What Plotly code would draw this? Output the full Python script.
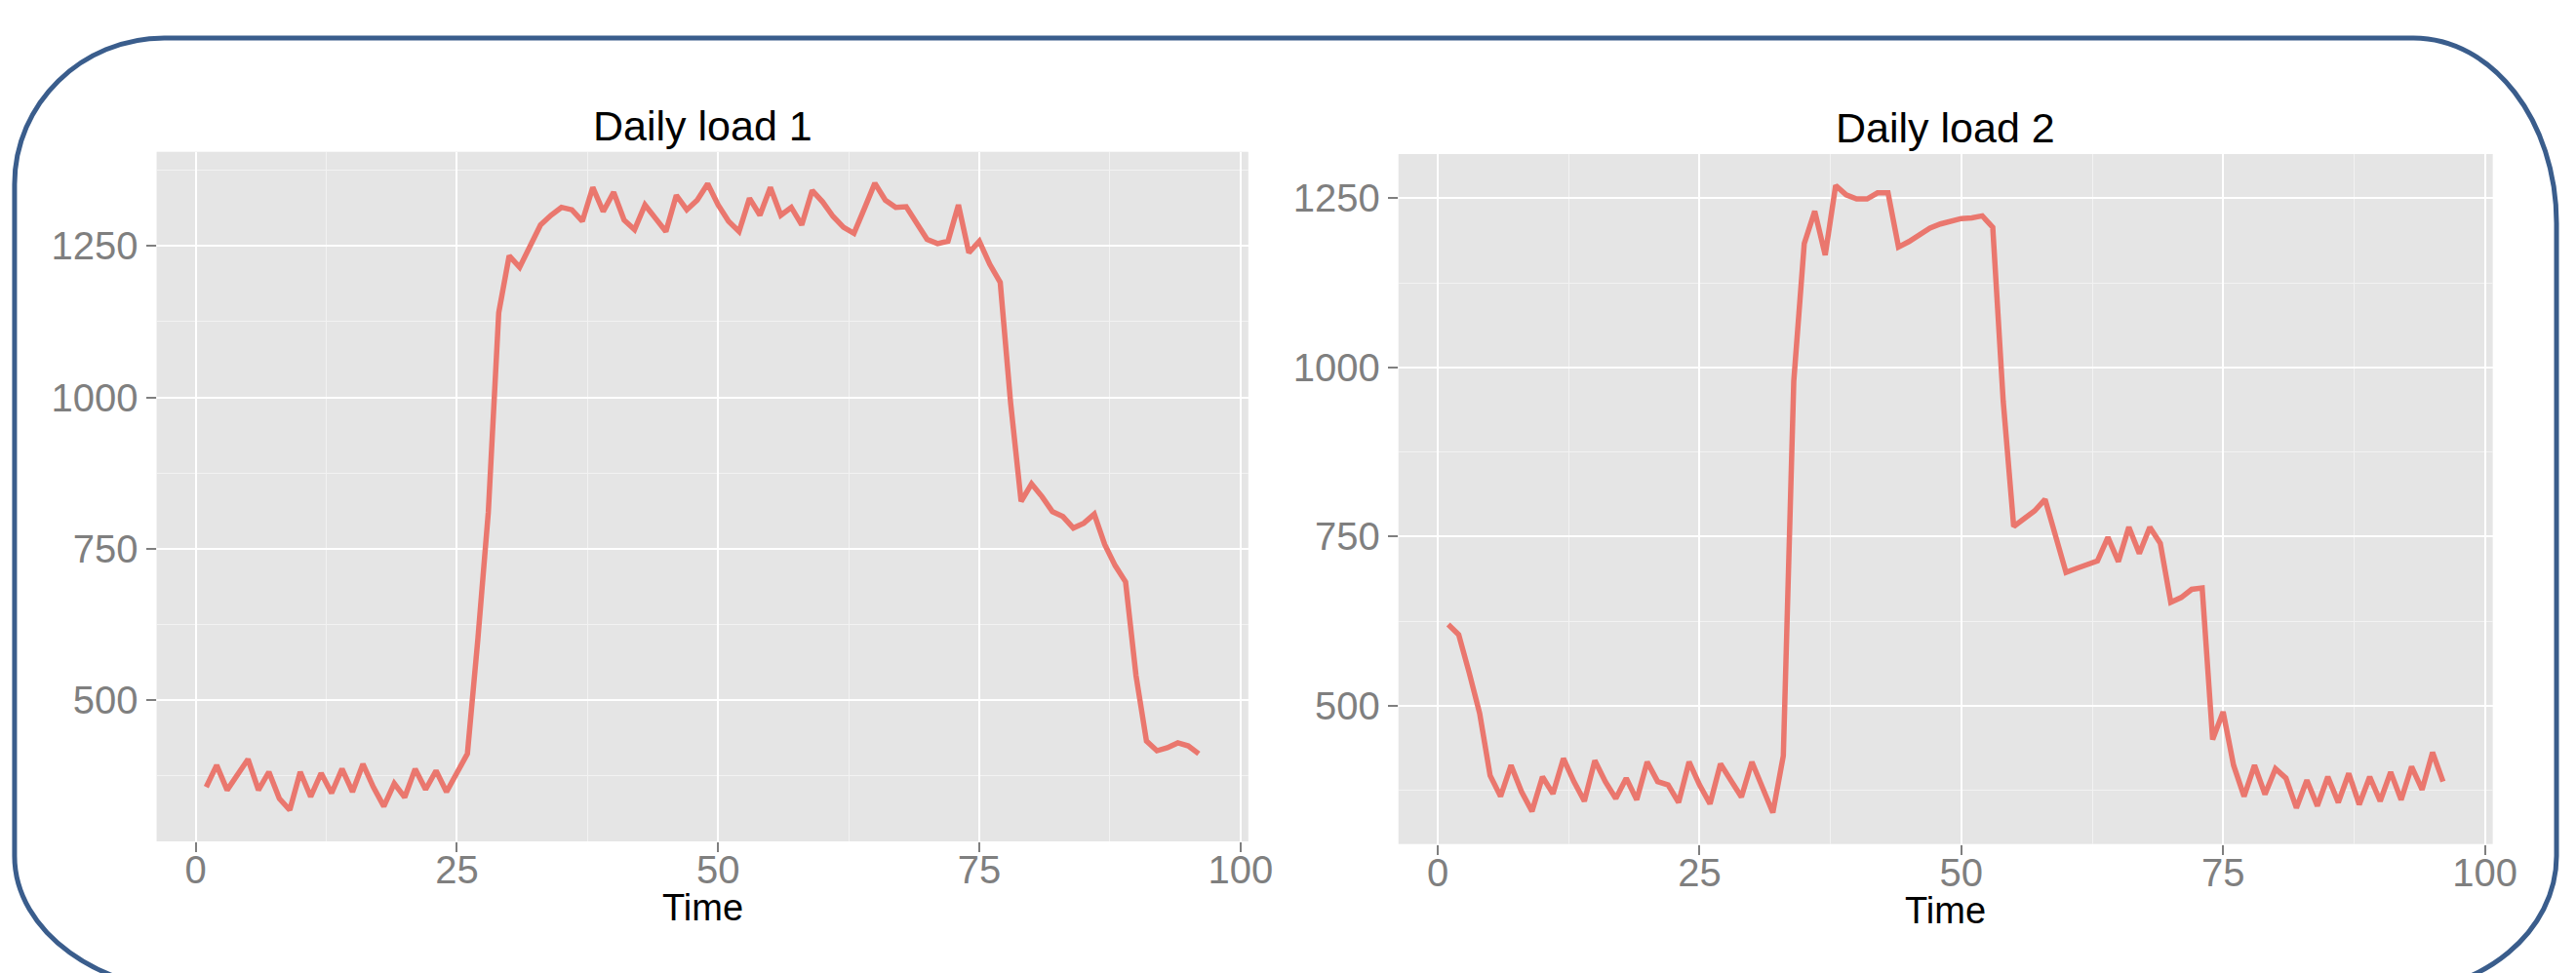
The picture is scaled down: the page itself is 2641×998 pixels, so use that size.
import plotly.graph_objects as go

# ---------------- data ----------------
time = list(range(1, 97))

load1 = [356, 392, 351, 378, 402, 351, 381, 337, 318, 381,
         340, 379, 346, 386, 348, 394, 356, 324, 362, 339,
         386, 352, 383, 348, 380, 411, 600, 810, 1140, 1234,
         1215, 1250, 1285, 1301, 1314, 1310, 1291, 1347, 1307, 1339,
         1293, 1277, 1318, 1296, 1274, 1334, 1310, 1326, 1353, 1318,
         1291, 1274, 1329, 1301, 1347, 1301, 1314, 1285, 1342, 1323,
         1299, 1281, 1271, 1312, 1354, 1326, 1314, 1315, 1288, 1261,
         1254, 1258, 1318, 1239, 1258, 1220, 1190, 990, 828, 857,
         836, 811, 803, 784, 792, 807, 757, 722, 695, 540,
         432, 416, 421, 429, 424, 411]

load2 = [620, 605, 549, 489, 397, 366, 412, 373, 344, 395,
         370, 422, 388, 359, 419, 388, 363, 393, 361, 417,
         388, 383, 357, 417, 383, 355, 414, 388, 365, 417,
         381, 342, 426, 980, 1183, 1231, 1166, 1269, 1255, 1249,
         1249, 1258, 1258, 1178, 1186, 1195, 1206, 1212, 1217, 1220,
         1221, 1224, 1207, 950, 765, 776, 788, 805, 749, 697,
         703, 709, 714, 749, 713, 764, 725, 764, 740, 653,
         660, 672, 674, 450, 491, 412, 366, 412, 369, 407,
         393, 349, 390, 352, 395, 357, 400, 354, 395, 359,
         402, 361, 410, 376, 431, 388]

titles = ["Daily load 1", "Daily load 2"]
x_title = "Time"
x_ticks = [0, 25, 50, 75, 100]
y_ticks = [500, 750, 1000, 1250]

# ---------------- layout constants ----------------
W, H = 2641, 998
LINE_COLOR = "#EA776E"
PANEL_BG = "#E5E5E5"
TICK_GREY = "#7F7F7F"
FONT = "Liberation Sans, Arial, sans-serif"


def px_x(x):
    return x / W


def px_y(y):
    return (H - y) / H


def expand(vals, frac=0.05):
    lo, hi = min(vals), max(vals)
    d = (hi - lo) * frac
    return [lo - d, hi + d]


x_range = expand([1, 96])

fig = go.Figure()
fig.add_trace(go.Scatter(x=time, y=load1, mode="lines",
                         line=dict(color=LINE_COLOR, width=5.5),
                         xaxis="x", yaxis="y", showlegend=False))
fig.add_trace(go.Scatter(x=time, y=load2, mode="lines",
                         line=dict(color=LINE_COLOR, width=5.5),
                         xaxis="x2", yaxis="y2", showlegend=False))

panels = [
    dict(x0=154, x1=1284, y0=147.7, y1=855, data=load1),
    dict(x0=1439.4, x1=2572, y0=150, y1=857.7, data=load2),
]

common_x = dict(
    range=x_range, tickvals=x_ticks, ticks="outside", ticklen=10, tickwidth=2,
    tickcolor=TICK_GREY, tickfont=dict(family=FONT, size=40, color=TICK_GREY),
    ticklabelstandoff=-16,
    showgrid=True, gridcolor="white", gridwidth=2.2, zeroline=False,
    showline=False,
    minor=dict(dtick=12.5, tick0=0, showgrid=True, gridcolor="#F2F2F2",
               gridwidth=1.3, ticks=""),
)
common_y = dict(
    tickvals=y_ticks, ticks="outside", ticklen=10, tickwidth=2,
    tickcolor=TICK_GREY, tickfont=dict(family=FONT, size=40, color=TICK_GREY),
    showgrid=True, gridcolor="white", gridwidth=2.2, zeroline=False,
    showline=False,
    minor=dict(dtick=125, tick0=0, showgrid=True, gridcolor="#F2F2F2",
               gridwidth=1.3, ticks=""),
)

layout = dict(
    width=W, height=H,
    margin=dict(l=0, r=0, t=0, b=0),
    paper_bgcolor="white",
    plot_bgcolor=PANEL_BG,
    showlegend=False,
)

for i, p in enumerate(panels):
    sx = "" if i == 0 else str(i + 1)
    xa = dict(common_x)
    xa["domain"] = [px_x(p["x0"]), px_x(p["x1"])]
    xa["anchor"] = "y" + sx
    ya = dict(common_y)
    ya["domain"] = [px_y(p["y1"]), px_y(p["y0"])]
    ya["range"] = expand(p["data"])
    ya["anchor"] = "x" + sx
    layout["xaxis" + sx] = xa
    layout["yaxis" + sx] = ya

fig.update_layout(**layout)

annotations = []
for i, p in enumerate(panels):
    cx = px_x((p["x0"] + p["x1"]) / 2)
    annotations.append(dict(
        text=titles[i], x=cx, y=px_y(p["y0"] - 27), xref="paper", yref="paper",
        xanchor="center", yanchor="middle", showarrow=False,
        font=dict(family=FONT, size=43, color="black")))
    annotations.append(dict(
        text=x_title, x=cx, y=px_y(p["y1"] + 68), xref="paper", yref="paper",
        xanchor="center", yanchor="middle", showarrow=False,
        font=dict(family=FONT, size=38, color="black")))
fig.update_layout(annotations=annotations)

# ---------------- rounded border ----------------
K = 0.5523
L, T, R, B = 7, 31, 2638, 1010


def quarter(p0, corner, p3):
    c1 = (p0[0] + K * (corner[0] - p0[0]), p0[1] + K * (corner[1] - p0[1]))
    c2 = (p3[0] + K * (corner[0] - p3[0]), p3[1] + K * (corner[1] - p3[1]))
    pts = [c1, c2, p3]
    return "C " + " ".join(f"{px_x(a):.5f},{px_y(b):.5f}" for a, b in pts)


def P(a, b):
    return f"{px_x(a):.5f},{px_y(b):.5f}"


path = " ".join([
    "M " + P(L + 155, T),
    "L " + P(R - 148, T),
    quarter((R - 148, T), (R, T), (R, T + 190)),
    "L " + P(R, B - 140),
    quarter((R, B - 140), (R, B), (R - 170, B)),
    "L " + P(L + 195, B),
    quarter((L + 195, B), (L, B), (L, B - 140)),
    "L " + P(L, T + 150),
    quarter((L, T + 150), (L, T), (L + 155, T)),
    "Z",
])

fig.add_shape(type="path", path=path, xref="paper", yref="paper",
              line=dict(color="#3A5D8C", width=5), fillcolor="rgba(0,0,0,0)")

fig.write_html("out.html")
